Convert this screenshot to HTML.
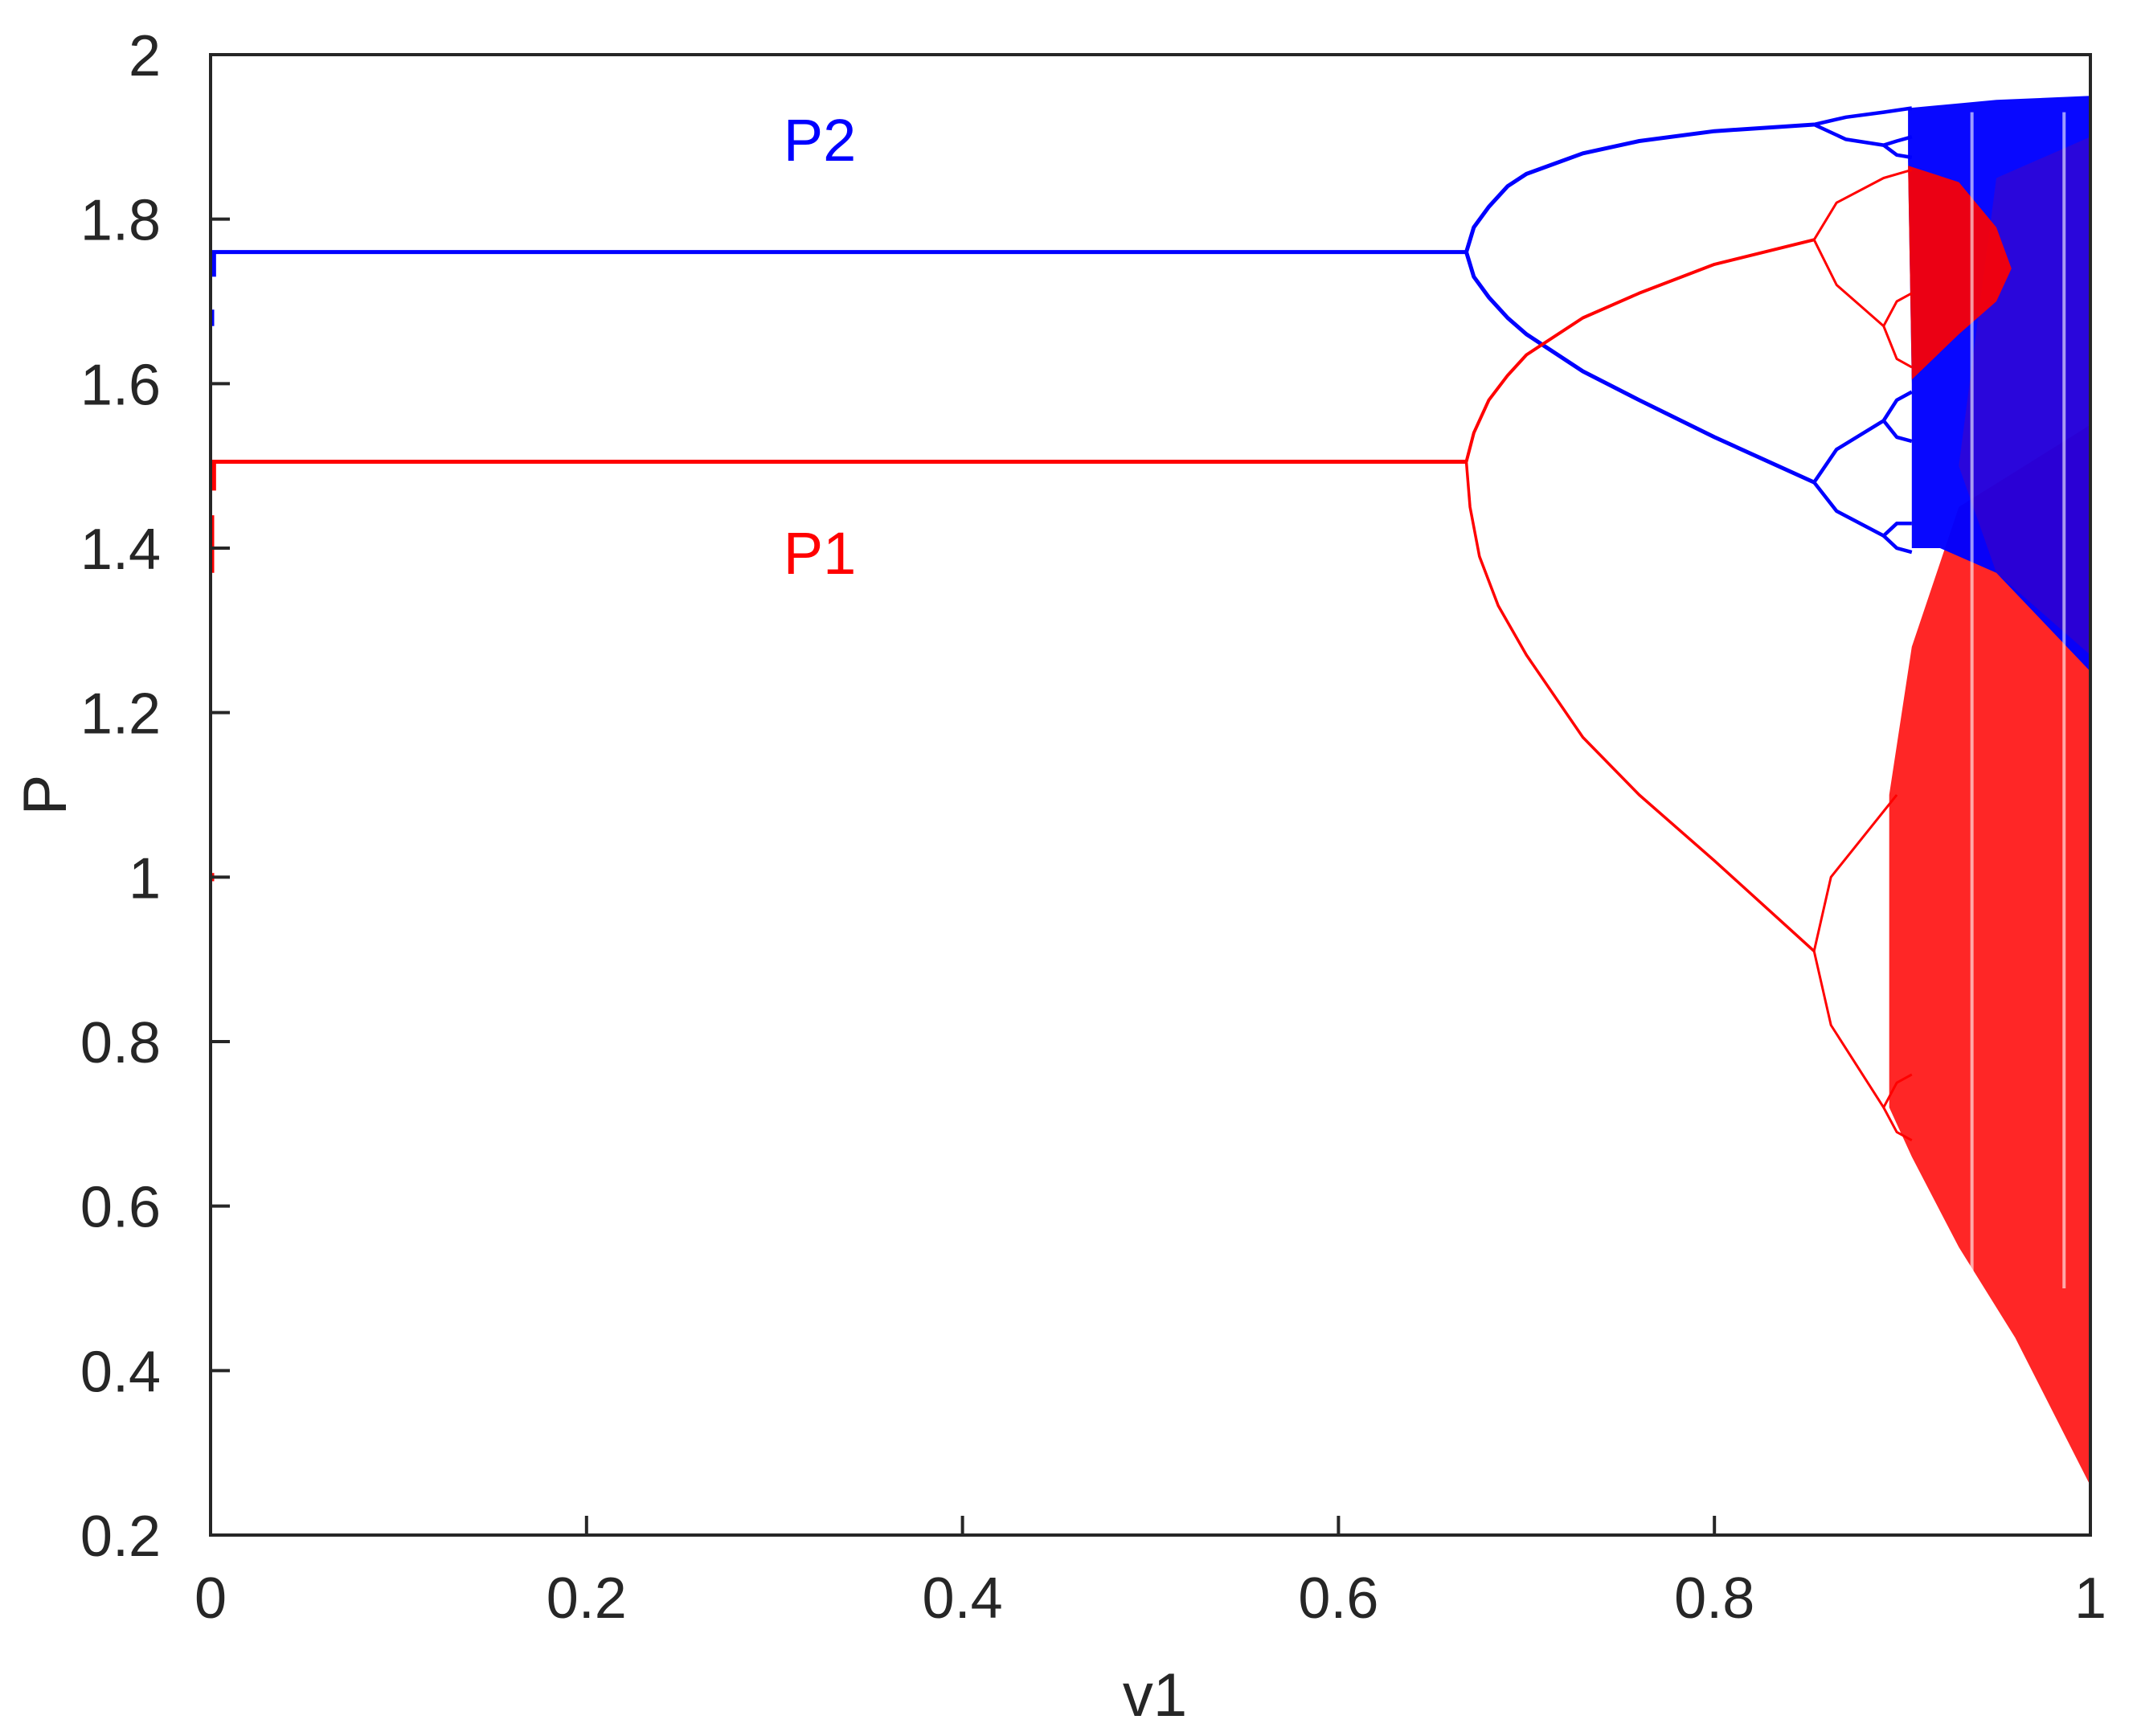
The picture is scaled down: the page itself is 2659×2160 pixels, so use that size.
<!DOCTYPE html>
<html><head><meta charset="utf-8"><style>
html,body{margin:0;padding:0;background:#fff;}
svg{display:block;font-family:"Liberation Sans",Arial,sans-serif;}
</style></head><body>
<svg id="chart" width="2659" height="2160" viewBox="0 0 2659 2160" xmlns="http://www.w3.org/2000/svg">
<rect x="0" y="0" width="2659" height="2160" fill="#fff"/>
<g id="marks"></g>
<g id="axes"></g>
<text x="1020" y="200" font-size="74" fill="#0000ff" text-anchor="middle">P2</text>
<text x="1020" y="714" font-size="74" fill="#ff0000" text-anchor="middle">P1</text>
<text x="1437" y="2135" font-size="76" fill="#262626" text-anchor="middle">v1</text>
<text transform="translate(82,989) rotate(-90)" font-size="76" fill="#262626" text-anchor="middle">P</text>
</svg>
<script>
const xTicks=[0,0.2,0.4,0.6,0.8,1];
const xTickLabels=["0","0.2","0.4","0.6","0.8","1"];
const yTicks=[0.2,0.4,0.6,0.8,1,1.2,1.4,1.6,1.8,2];
const yTickLabels=["0.2","0.4","0.6","0.8","1","1.2","1.4","1.6","1.8","2"];
// periodic branches [v, P]
const blueFixed=[[0,1.76],[0.668,1.76]];
const redFixed=[[0,1.505],[0.668,1.505]];
const blueUpper=[[0.668,1.76],[0.672,1.79],[0.68,1.815],[0.69,1.84],[0.70,1.855],[0.73,1.88],[0.76,1.895],[0.80,1.907],[0.853,1.915]];
const blueLower=[[0.668,1.76],[0.672,1.73],[0.68,1.705],[0.69,1.68],[0.70,1.66],[0.73,1.615],[0.76,1.58],[0.80,1.535],[0.853,1.48]];
const redUpper=[[0.668,1.505],[0.672,1.54],[0.68,1.58],[0.69,1.61],[0.70,1.635],[0.73,1.68],[0.76,1.71],[0.80,1.745],[0.853,1.775]];
const redLower=[[0.668,1.505],[0.670,1.45],[0.675,1.39],[0.685,1.33],[0.70,1.27],[0.73,1.17],[0.76,1.10],[0.80,1.02],[0.853,0.91]];
const blueP4=[
 [[0.853,1.915],[0.87,1.924],[0.89,1.93],[0.905,1.935]],
 [[0.853,1.915],[0.87,1.897],[0.89,1.89],[0.897,1.895],[0.905,1.90]],
 [[0.89,1.89],[0.897,1.878],[0.905,1.875]],
 [[0.853,1.48],[0.865,1.52],[0.89,1.555],[0.897,1.58],[0.905,1.59]],
 [[0.89,1.555],[0.897,1.535],[0.905,1.53]],
 [[0.853,1.48],[0.865,1.445],[0.89,1.415],[0.897,1.43],[0.905,1.43]],
 [[0.89,1.415],[0.897,1.40],[0.905,1.395]]
];
const redP4=[
 [[0.853,1.775],[0.865,1.82],[0.89,1.85],[0.905,1.86]],
 [[0.853,1.775],[0.865,1.72],[0.89,1.67],[0.897,1.70],[0.905,1.71]],
 [[0.89,1.67],[0.897,1.63],[0.905,1.62]],
 [[0.853,0.91],[0.862,1.0],[0.89,1.08],[0.897,1.10]],
 [[0.853,0.91],[0.862,0.82],[0.89,0.72],[0.897,0.75],[0.905,0.76]],
 [[0.89,0.72],[0.897,0.69],[0.905,0.68]]
];
// chaotic band envelopes [v, P]
const redLowerBand=[[0.893,0.72],[0.893,1.10],[0.905,1.28],[0.93,1.45],[1,1.55],[1,0.26],[0.96,0.44],[0.93,0.55],[0.905,0.66]];
const blueBand=[[0.903,1.935],[0.95,1.945],[1,1.95],[1,1.25],[0.95,1.37],[0.92,1.40],[0.905,1.40],[0.905,1.60],[0.903,1.87]];
const redUpperBand=[[0.903,1.865],[0.93,1.845],[0.95,1.79],[0.958,1.74],[0.95,1.70],[0.93,1.66],[0.905,1.605]];
const redScatterBand=[[0.95,1.85],[1,1.9],[1,1.27],[0.95,1.37],[0.93,1.5]];
const gapLines=[0.937,0.986];
const edgeDotsRed=[[0,1.37,1.44],[0,0.995,1.005],[0.001,1.47,1.505]];
const edgeDotsBlue=[[0,1.67,1.69],[0.001,1.73,1.76]];

const X0=262,X1=2601,Y0=1910,Y1=68;
const xs=v=>X0+(X1-X0)*v;
const ys=p=>Y0-(Y0-Y1)*(p-0.2)/1.8;
const NS="http://www.w3.org/2000/svg";
const marks=document.getElementById('marks');
const axes=document.getElementById('axes');
function mk(tag,parent){const e=document.createElementNS(NS,tag);parent.appendChild(e);return e;}
function pts(arr){return arr.map(d=>xs(d[0]).toFixed(1)+','+ys(d[1]).toFixed(1)).join(' ');}
function poly(arr,color,op,name){const e=mk('polygon',marks);e.setAttribute('points',pts(arr));e.setAttribute('fill',color);e.setAttribute('fill-opacity',op);

}
function line(arr,color,w,name){const e=mk('polyline',marks);e.setAttribute('points',pts(arr));e.setAttribute('fill','none');e.setAttribute('stroke',color);e.setAttribute('stroke-width',w);e.setAttribute('stroke-linejoin','round');

}

poly(redLowerBand,'#ff0000',0.85,'red-chaos-lower');
poly(blueBand,'#0000ff',0.97,'blue-chaos');
poly(redScatterBand,'#ff0000',0.14,'red-chaos-mixed');
poly(redUpperBand,'#ff0000',0.92,'red-chaos-upper');
gapLines.forEach(g=>{const e=mk('line',marks);e.setAttribute('x1',xs(g));e.setAttribute('x2',xs(g));e.setAttribute('y1',ys(1.93));e.setAttribute('y2',ys(0.5));e.setAttribute('stroke','#fff');e.setAttribute('stroke-opacity','0.6');e.setAttribute('stroke-width','4');

});
line(blueFixed,'#0000ff',5,'blue-fixed-branch');
line(redFixed,'#ff0000',5,'red-fixed-branch');
line(blueUpper,'#0000ff',5,'blue-upper-branch');
line(blueLower,'#0000ff',5,'blue-lower-branch');
line(redUpper,'#ff0000',4,'red-upper-branch');
line(redLower,'#ff0000',3.5,'red-lower-branch');
blueP4.forEach(b=>line(b,'#0000ff',4.5,'blue-doubling-branch'));
redP4.forEach(b=>line(b,'#ff0000',3,'red-doubling-branch'));
function vseg(arr,color,name){arr.forEach(d=>{const e=mk('line',marks);e.setAttribute('x1',xs(d[0])+2);e.setAttribute('x2',xs(d[0])+2);e.setAttribute('y1',ys(d[1]));e.setAttribute('y2',ys(d[2]));e.setAttribute('stroke',color);e.setAttribute('stroke-width','5');

});}
vseg(edgeDotsRed,'#ff0000','red-transient');
vseg(edgeDotsBlue,'#0000ff','blue-transient');

// axes box
const box=mk('rect',axes);box.setAttribute('x',X0);box.setAttribute('y',Y1);box.setAttribute('width',X1-X0);box.setAttribute('height',Y0-Y1);box.setAttribute('fill','none');box.setAttribute('stroke','#262626');box.setAttribute('stroke-width','4');


xTicks.forEach((t,i)=>{
 const l=mk('line',axes);l.setAttribute('x1',xs(t));l.setAttribute('x2',xs(t));l.setAttribute('y1',Y0);l.setAttribute('y2',Y0-24);l.setAttribute('stroke','#262626');l.setAttribute('stroke-width','4');
 
 
 const tx=mk('text',axes);tx.setAttribute('x',xs(t));tx.setAttribute('y',2013);tx.setAttribute('font-size','72');tx.setAttribute('fill','#262626');tx.setAttribute('text-anchor','middle');tx.textContent=xTickLabels[i];
 
 
});
yTicks.forEach((t,i)=>{
 const l=mk('line',axes);l.setAttribute('x1',X0);l.setAttribute('x2',X0+24);l.setAttribute('y1',ys(t));l.setAttribute('y2',ys(t));l.setAttribute('stroke','#262626');l.setAttribute('stroke-width','4');
 
 
 const tx=mk('text',axes);tx.setAttribute('x',200);tx.setAttribute('y',ys(t)+26);tx.setAttribute('font-size','72');tx.setAttribute('fill','#262626');tx.setAttribute('text-anchor','end');tx.textContent=yTickLabels[i];
 
 
});
</script>
</body></html>
